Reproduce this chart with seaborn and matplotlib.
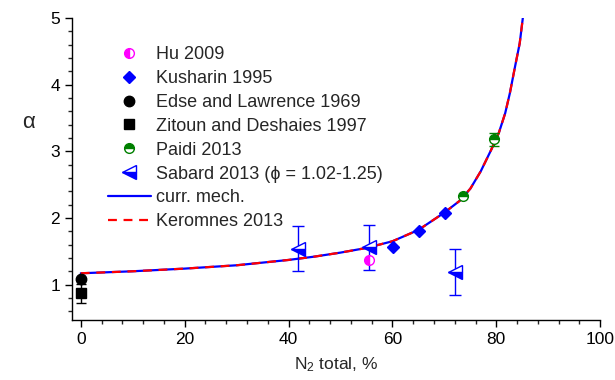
import matplotlib
matplotlib.use("Agg")
import matplotlib.pyplot as plt
import seaborn as sns
import pandas as pd
from matplotlib.ticker import MultipleLocator
from matplotlib.lines import Line2D

# ---- data ----
curr_x = [0, 10, 20, 30, 40, 45, 50, 55, 60, 65, 70, 73, 75, 77, 79, 80.5, 81.7, 82.6, 83.6, 84.5, 85.1]
curr_y = [1.17, 1.20, 1.24, 1.29, 1.37, 1.42, 1.48, 1.55, 1.65, 1.82, 2.08, 2.26, 2.44, 2.70, 3.02, 3.28, 3.57, 3.87, 4.27, 4.62, 5.0]
kero_x = [0, 10, 20, 30, 40, 45, 50, 55, 60, 65, 70, 73, 75, 77, 79, 80.5, 81.7, 82.6, 83.6, 84.5, 85.1]
kero_y = [1.17, 1.20, 1.24, 1.29, 1.37, 1.42, 1.48, 1.55, 1.65, 1.82, 2.08, 2.26, 2.44, 2.70, 3.02, 3.28, 3.57, 3.87, 4.27, 4.62, 5.0]

hu_x = [55.5]
hu_y = [1.37]
kush_x = [60.2, 65.2, 70.2]
kush_y = [1.57, 1.80, 2.08]
edse_x = [0.0]
edse_y = [1.09]
zit_x = [0.0]
zit_y = [0.87]
zit_err = [0.14]
paidi_x = [73.6, 79.6]
paidi_y = [2.33, 3.18]
paidi_err = [0.0, 0.1]
sab_x = [41.8, 55.5, 72.0]
sab_y = [1.54, 1.56, 1.19]
sab_err = [0.34, 0.34, 0.35]

labels = ["Hu 2009", "Kusharin 1995", "Edse and Lawrence 1969", "Zitoun and Deshaies 1997",
          "Paidi 2013", "Sabard 2013 (\u03d5 = 1.02-1.25)", "curr. mech.", "Keromnes 2013"]

# ---- style ----
sns.set_style("ticks")
plt.rcParams["font.family"] = ["Liberation Sans", "DejaVu Sans"]
plt.rcParams["mathtext.fontset"] = "custom"
plt.rcParams["mathtext.rm"] = "Liberation Sans"
plt.rcParams["mathtext.default"] = "regular"

fig = plt.figure(figsize=(6.15, 3.8), dpi=100)
ax = fig.add_axes([0.117, 0.158, 0.859, 0.795])

df_curr = pd.DataFrame({"x": curr_x, "y": curr_y})
df_kero = pd.DataFrame({"x": kero_x, "y": kero_y})
sns.lineplot(data=df_curr, x="x", y="y", ax=ax, color="#0000ff", lw=1.6, sort=False, estimator=None, zorder=2)
sns.lineplot(data=df_kero, x="x", y="y", ax=ax, color="#ff0000", lw=1.6, sort=False, estimator=None,
             zorder=3, dashes=False, linestyle=(0, (4, 3)))

# error bars
ax.errorbar(zit_x, zit_y, yerr=zit_err, fmt="none", ecolor="black", elinewidth=1, capsize=3.5, zorder=4)
ax.errorbar(paidi_x, paidi_y, yerr=paidi_err, fmt="none", ecolor="green", elinewidth=1, capsize=3.5, zorder=4)
ax.errorbar(sab_x, sab_y, yerr=sab_err, fmt="none", ecolor="#0000ff", elinewidth=1, capsize=4, zorder=4)

h_hu, = ax.plot(hu_x, hu_y, ls="none", marker="o", ms=7, color="magenta", mec="magenta",
                fillstyle="left", markerfacecoloralt="white", zorder=5)
h_ku, = ax.plot(kush_x, kush_y, ls="none", marker="D", ms=6.5, color="#0000ff", zorder=5)
h_ed, = ax.plot(edse_x, edse_y, ls="none", marker="o", ms=7.5, color="black", zorder=5)
h_zi, = ax.plot(zit_x, zit_y, ls="none", marker="s", ms=6.5, color="black", zorder=5)
h_pa, = ax.plot(paidi_x, paidi_y, ls="none", marker="o", ms=7, color="green", mec="green",
                fillstyle="top", markerfacecoloralt="white", zorder=5)
h_sa, = ax.plot(sab_x, sab_y, ls="none", marker="<", ms=10, color="#0000ff", mec="#0000ff",
                fillstyle="bottom", markerfacecoloralt="white", zorder=5)

h_cm = Line2D([], [], color="#0000ff", lw=1.6)
h_ke = Line2D([], [], color="#ff0000", lw=1.6, linestyle=(0, (4, 3)))

ax.legend([h_hu, h_ku, h_ed, h_zi, h_pa, h_sa, h_cm, h_ke], labels,
          loc="upper left", bbox_to_anchor=(0.055, 0.93), frameon=False,
          fontsize=13, handlelength=2.35, handletextpad=0.3, labelspacing=0.38,
          borderaxespad=0)

ax.set_xlim(-1.7, 100)
ax.set_ylim(0.47, 5)
ax.xaxis.set_major_locator(MultipleLocator(20))
ax.xaxis.set_minor_locator(MultipleLocator(4))
ax.yaxis.set_major_locator(MultipleLocator(1))
ax.yaxis.set_minor_locator(MultipleLocator(0.2))
ax.tick_params(which="major", direction="out", length=5, width=1, labelsize=12.5, colors="black")
ax.tick_params(which="minor", direction="out", length=3, width=1)
for s in ["left", "bottom"]:
    ax.spines[s].set_linewidth(1)
    ax.spines[s].set_color("black")
sns.despine(ax=ax)

ax.set_xlabel("N$_2$ total, %", fontsize=12.5, labelpad=6)
ax.set_ylabel("\u03b1", fontsize=16, rotation=0)
ax.yaxis.set_label_coords(-0.083, 0.62)

fig.savefig("out.png", dpi=100)
